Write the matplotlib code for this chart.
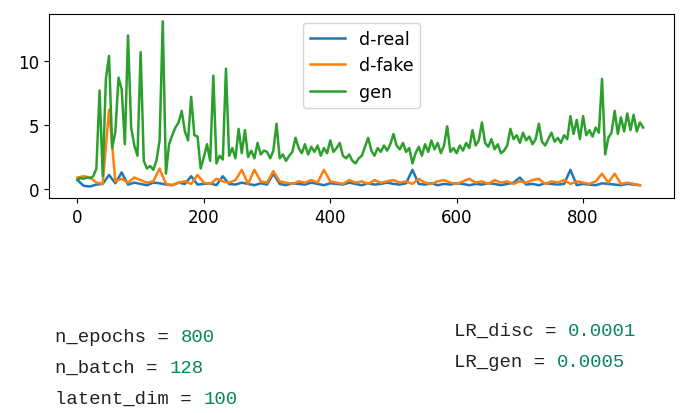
import matplotlib
matplotlib.use("Agg")
import matplotlib.pyplot as plt

gen_epochs = list(range(0, 900, 5))
gen_loss = [
    0.75, 0.85, 0.8, 0.9, 0.85, 1.0, 1.6, 7.7, 1.0, 8.6,
    10.4, 3.2, 4.5, 8.7, 7.8, 3.5, 12.0, 4.8, 3.4, 2.6,
    10.7, 2.2, 1.6, 1.8, 1.5, 2.2, 3.8, 13.1, 1.2, 3.5,
    4.2, 4.8, 5.2, 6.1, 4.5, 3.8, 7.2, 4.2, 4.1, 1.6,
    2.5, 3.5, 2.2, 8.85, 2.0, 2.6, 2.3, 9.4, 2.6, 3.2,
    2.4, 4.7, 2.8, 4.6, 2.5, 3.0, 2.4, 3.6, 2.7, 3.0,
    2.9, 2.4, 3.0, 5.1, 2.4, 2.7, 2.2, 2.6, 2.9, 4.0,
    3.2, 2.8, 3.5, 2.7, 3.3, 2.9, 3.4, 2.6, 3.2, 2.8,
    3.8, 2.9, 3.2, 3.6, 2.6, 2.4, 2.7, 2.2, 2.0, 2.4,
    2.6, 3.3, 4.0, 3.0, 2.6, 3.2, 2.9, 3.4, 3.0, 3.5,
    4.3, 3.4, 3.1, 3.6, 2.9, 3.2, 2.0, 2.8, 3.3, 2.6,
    3.5, 2.9, 3.8, 3.1, 3.6, 2.8, 3.4, 4.9, 2.9, 3.2,
    2.8, 3.4, 3.0, 3.6, 3.2, 4.6, 3.4, 3.8, 5.2, 3.6,
    3.3, 3.9, 3.1, 3.5, 2.8, 3.0, 3.4, 4.7, 3.9, 4.2,
    3.6, 4.4, 3.8, 4.1, 3.5, 3.9, 5.1, 3.7, 3.4, 3.9,
    4.4, 3.7, 4.0, 3.6, 4.2, 3.9, 5.7, 4.3, 5.4, 3.9,
    5.7, 4.2, 4.6, 4.1, 4.8, 4.4, 8.6, 2.7, 4.0, 4.4,
    6.1, 4.3, 5.6, 4.5, 5.9, 4.6, 5.8, 4.5, 5.2, 4.8,
]

disc_epochs = list(range(0, 900, 10))
d_real = [
    0.7, 0.25, 0.2, 0.35, 0.4, 1.1, 0.45, 1.3, 0.35, 0.5,
    0.4, 0.3, 0.5, 0.45, 0.35, 0.3, 0.5, 0.4, 1.0, 0.35,
    0.4, 0.45, 0.3, 1.0, 0.4, 0.35, 0.5, 0.4, 0.3, 0.45,
    0.35, 1.2, 0.4, 0.3, 0.45, 0.4, 0.35, 0.5, 0.4, 0.3,
    0.45, 0.4, 0.35, 0.5, 0.4, 0.3, 0.45, 0.35, 0.4, 0.5,
    0.4, 0.35, 0.45, 1.5, 0.4, 0.35, 0.45, 0.3, 0.4, 0.35,
    0.45, 0.4, 0.3, 0.4, 0.35, 0.45, 0.4, 0.3, 0.4, 0.5,
    0.9, 0.35, 0.4, 0.3, 0.45, 0.4, 0.35, 0.4, 1.5, 0.3,
    0.4, 0.35, 0.3, 0.45, 0.4, 0.35, 0.3, 0.4, 0.35, 0.3,
]
d_fake = [
    0.9, 1.0, 0.9, 0.5, 0.4, 6.2, 0.6, 0.8, 0.5, 0.9,
    0.7, 0.5, 0.6, 1.6, 0.4, 0.3, 0.5, 0.6, 0.4, 1.1,
    0.5, 0.4, 0.8, 0.6, 0.5, 0.7, 1.5, 0.4, 1.5, 0.6,
    0.5, 1.4, 0.6, 0.5, 0.4, 0.6, 0.5, 0.7, 0.5, 1.5,
    0.6, 0.5, 0.4, 0.7, 0.5, 0.6, 0.4, 0.7, 0.5, 0.6,
    0.7, 0.5, 0.6, 0.4, 0.8, 0.5, 0.4, 0.6, 0.7, 0.5,
    0.4, 0.6, 0.8, 0.5, 0.6, 0.4, 0.7, 0.5, 0.6, 0.4,
    0.6, 0.5, 0.7, 0.8, 0.4, 0.6, 0.5, 0.7, 0.4, 0.6,
    0.5, 0.4, 0.6, 1.2, 0.5, 1.2, 0.4, 0.5, 0.4, 0.3,
]

# hyperparameters shown under the plot
left_params = [("n_epochs", "800"), ("n_batch", "128"), ("latent_dim", "100")]
right_params = [("LR_disc", "0.0001"), ("LR_gen", "0.0005")]

fig = plt.figure(figsize=(6.93, 4.14), dpi=100)
ax = fig.add_axes([0.0707, 0.5193, 0.902, 0.4445])

ax.plot(disc_epochs, d_real, label="d-real", lw=1.8)
ax.plot(disc_epochs, d_fake, label="d-fake", lw=1.8)
ax.plot(gen_epochs, gen_loss, label="gen", lw=1.8)

ax.set_xlim(-45, 944)
ax.set_ylim(-0.7, 13.67)
ax.set_xticks([0, 200, 400, 600, 800])
ax.set_yticks([0, 5, 10])
ax.tick_params(labelsize=12)
ax.legend(loc="upper center", fontsize=12.5)

mono = "Liberation Mono"
mono_size = 13.7
num_color = "#098658"
char_w = 0.6 * mono_size / 72 * 100 / 693  # one monospace cell, figure fraction


def param_line(x, y, name, value):
    prefix = f"{name} = "
    fig.text(x, y, prefix.rstrip(), family=mono, fontsize=mono_size, color="#222222")
    fig.text(x + len(prefix) * char_w, y, value, family=mono, fontsize=mono_size, color=num_color)


for (name, value), y in zip(left_params, [0.1746, 0.099, 0.0242]):
    param_line(0.0794, y, name, value)
for (name, value), y in zip(right_params, [0.1884, 0.1135]):
    param_line(0.655, y, name, value)

fig.savefig("out.png", dpi=100)
